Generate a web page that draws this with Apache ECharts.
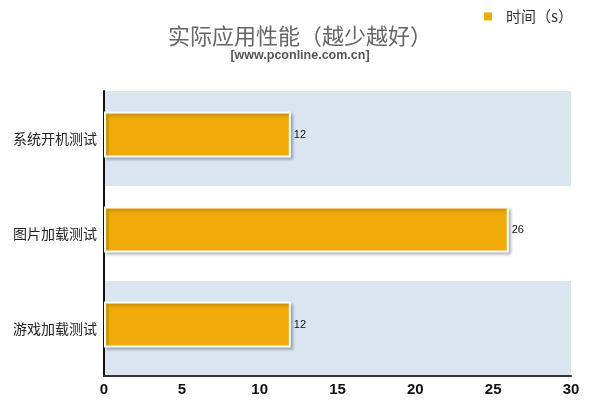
<!DOCTYPE html>
<html><head><meta charset="utf-8">
<script src="https://cdn.jsdelivr.net/npm/echarts@6/dist/echarts.min.js"></script>
<style>html,body{margin:0;padding:0;background:#fff}#c{width:600px;height:409px}</style>
</head><body><div id="c"></div>
<script>
const categories = ['游戏加载测试', '图片加载测试', '系统开机测试'];
const values = [12, 26, 12];
const seriesName = '时间（s）';
const xTicks = [0, 5, 10, 15, 20, 25, 30];

const chart = echarts.init(document.getElementById('c'));
chart.setOption({
  animation: false,
  title: {
    text: '实际应用性能（越少越好）',
    subtext: '[www.pconline.com.cn]',
    left: 'center', top: 20, itemGap: 2,
    textStyle: {fontFamily: 'Noto Sans CJK SC', fontSize: 22, fontWeight: 'normal', color: '#666'},
    subtextStyle: {fontFamily: 'Liberation Sans', fontSize: 12.5, fontWeight: 'bold', color: '#555'}
  },
  legend: {
    right: 22, top: 4, itemWidth: 10, itemHeight: 10, icon: 'rect', itemGap: 12,
    textStyle: {fontFamily: 'Noto Sans CJK SC', fontSize: 15, color: '#333', padding: [0, 0, 0, 8]},
    data: [seriesName]
  },
  grid: {left: 104, right: 29, top: 91, bottom: 33},
  xAxis: {
    type: 'value', min: xTicks[0], max: xTicks[xTicks.length - 1], interval: 5,
    axisLine: {show: true, lineStyle: {color: '#333', width: 2}},
    axisTick: {show: false},
    splitLine: {show: false},
    axisLabel: {fontFamily: 'Liberation Sans', fontSize: 15, fontWeight: 'bold', color: '#111', margin: 6}
  },
  yAxis: {
    type: 'category', data: categories,
    axisLine: {show: true, lineStyle: {color: '#111', width: 2}},
    axisTick: {show: false},
    splitArea: {show: true, areaStyle: {color: ['#dae5f0', '#ffffff']}},
    axisLabel: {fontFamily: 'Noto Sans CJK SC', fontSize: 14, color: '#222', margin: 7}
  },
  series: [{
    name: seriesName, type: 'bar', data: values, barWidth: 46, barGap: '0%',
    itemStyle: {color: '#f0ab0b', borderColor: '#fff', borderWidth: 2,
      shadowColor: 'rgba(0,0,0,0.25)', shadowBlur: 3, shadowOffsetX: 2, shadowOffsetY: 2},
    label: {show: true, position: 'right', distance: 3, fontFamily: 'Liberation Sans', fontSize: 11, color: '#111'}
  }, {
    name: 'pad', type: 'bar', data: categories.map(() => null), barWidth: 8, barGap: '0%',
    silent: true
  }]
});
</script></body></html>
